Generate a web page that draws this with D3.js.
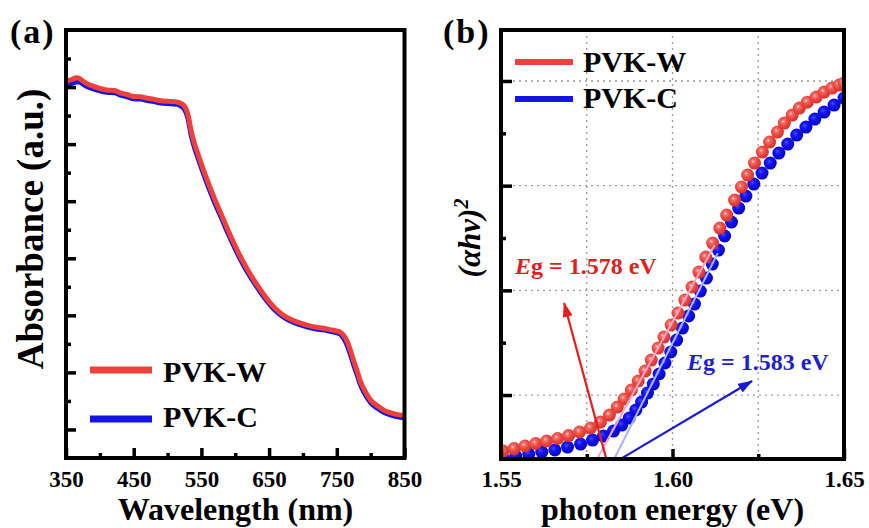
<!DOCTYPE html>
<html><head><meta charset="utf-8">
<script src="https://cdn.jsdelivr.net/npm/d3@7"></script>
<style>
body{margin:0;background:#fff;}
svg{display:block;}
text{font-family:'Liberation Serif','Times New Roman',serif;font-weight:bold;}
</style></head>
<body><div id="chart"></div>
<script>
// ---------- Panel (a) data ----------
const wavelengths = [350,355,360,365,370,375,380,390,400,410,422,430,440,450,460,470,480,490,500,510,515,520,525,530,535,540,545,550,560,570,580,590,600,610,620,630,640,650,660,670,680,690,700,710,720,730,740,750,755,760,765,770,775,780,785,790,800,810,820,830,840,850];
const absW = [1.418,1.424,1.428,1.433,1.430,1.421,1.413,1.403,1.395,1.390,1.388,1.380,1.374,1.367,1.366,1.361,1.357,1.352,1.350,1.349,1.347,1.342,1.333,1.305,1.245,1.200,1.165,1.130,1.065,1.005,0.950,0.895,0.843,0.795,0.753,0.715,0.680,0.648,0.622,0.602,0.588,0.578,0.570,0.563,0.558,0.555,0.550,0.545,0.541,0.530,0.510,0.478,0.440,0.405,0.368,0.342,0.303,0.283,0.267,0.258,0.252,0.249];
const absC = [1.402,1.410,1.414,1.418,1.418,1.410,1.403,1.394,1.387,1.382,1.380,1.372,1.366,1.359,1.358,1.353,1.349,1.344,1.342,1.341,1.339,1.333,1.322,1.292,1.230,1.186,1.152,1.117,1.052,0.993,0.939,0.884,0.833,0.786,0.744,0.707,0.672,0.641,0.615,0.596,0.582,0.572,0.564,0.557,0.552,0.549,0.544,0.539,0.534,0.520,0.497,0.464,0.426,0.392,0.356,0.331,0.294,0.274,0.259,0.250,0.244,0.241];
const xTicksA = [350,450,550,650,750,850];
const xMinorA = [400,500,600,700,800];
const yTicksA = [0.2,0.4,0.6,0.8,1.0,1.2,1.4];
const yMinorA = [0.3,0.5,0.7,0.9,1.1,1.3,1.5];

// ---------- Panel (b) data ----------
const energyW = [1.5474,1.5506,1.5538,1.5570,1.5601,1.5633,1.5665,1.5697,1.5729,1.5761,1.5790,1.5816,1.5839,1.5859,1.5880,1.5900,1.5920,1.5938,1.5958,1.5975,1.5996,1.6016,1.6036,1.6057,1.6077,1.6097,1.6117,1.6138,1.6158,1.6181,1.6201,1.6219,1.6239,1.6262,1.6283,1.6306,1.6326,1.6349,1.6370,1.6393,1.6419,1.6442,1.6465,1.6486,1.6500];
const ahvW = [0.44,0.465,0.489,0.513,0.537,0.561,0.585,0.613,0.647,0.685,0.742,0.809,0.885,0.962,1.048,1.134,1.229,1.334,1.449,1.554,1.669,1.783,1.907,2.032,2.175,2.318,2.452,2.595,2.719,2.862,2.987,3.101,3.216,3.321,3.416,3.512,3.598,3.674,3.741,3.798,3.846,3.894,3.932,3.961,3.980];
const energyC = [1.5471,1.5506,1.5543,1.5581,1.5619,1.5657,1.5694,1.5732,1.5767,1.5799,1.5828,1.5852,1.5874,1.5893,1.5910,1.5927,1.5944,1.5961,1.5978,1.5995,1.6012,1.6029,1.6047,1.6064,1.6081,1.6099,1.6116,1.6134,1.6152,1.6172,1.6193,1.6214,1.6237,1.6261,1.6285,1.6310,1.6336,1.6362,1.6389,1.6415,1.6442,1.6471,1.6500];
const ahvC = [0.38,0.398,0.417,0.436,0.456,0.475,0.503,0.532,0.570,0.608,0.656,0.713,0.780,0.857,0.933,1.019,1.105,1.201,1.306,1.411,1.525,1.640,1.755,1.869,1.993,2.117,2.251,2.385,2.519,2.652,2.786,2.901,3.015,3.120,3.216,3.311,3.397,3.483,3.560,3.636,3.703,3.770,3.837];
const fitW = [[1.578,0.389],[1.6123,2.433]];
const fitC = [[1.583,0.389],[1.6132,2.356]];
const arrowW = [[1.5807,0.39],[1.5684,1.879]];
const arrowC = [[1.5849,0.39],[1.6232,1.134]];
const xTicksB = [1.55,1.60,1.65];
const xMinorB = [1.575,1.625];
const yTicksB = [1,2,3,4];
const yMinorB = [1.5,2.5,3.5];
const gridXB = [1.575,1.60,1.625];
const seriesNames = ["PVK-W","PVK-C"];
const colW = "#f0403c", colC = "#1414e6";

const svg = d3.select("#chart").append("svg").attr("width",869).attr("height",528);
const defs = svg.append("defs");

// gradients for sphere markers
const gR = defs.append("radialGradient").attr("id","gRed").attr("cx","40%").attr("cy","38%").attr("r","60%");
gR.append("stop").attr("offset","0%").attr("stop-color","#ffd6cf");
gR.append("stop").attr("offset","22%").attr("stop-color","#f2706a");
gR.append("stop").attr("offset","60%").attr("stop-color","#ea4640");
gR.append("stop").attr("offset","100%").attr("stop-color","#d8332e");
const gB = defs.append("radialGradient").attr("id","gBlue").attr("cx","40%").attr("cy","38%").attr("r","60%");
gB.append("stop").attr("offset","0%").attr("stop-color","#4848ff");
gB.append("stop").attr("offset","40%").attr("stop-color","#1212f2");
gB.append("stop").attr("offset","100%").attr("stop-color","#0606c8");

function arrowMarker(id,color){
  defs.append("marker").attr("id",id).attr("markerUnits","userSpaceOnUse")
    .attr("markerWidth",16).attr("markerHeight",12).attr("refX",14).attr("refY",5)
    .attr("orient","auto").append("path").attr("d","M0,0 L15,5 L0,10 Z").attr("fill",color);
}
arrowMarker("arrR","#e81e1e");
arrowMarker("arrB","#1a1ad2");

function styleAxis(g){
  g.select(".domain").remove();
  g.selectAll(".tick line").attr("stroke","#000").attr("stroke-width",3.5);
  g.selectAll(".tick text").attr("fill","#000").style("font-size","23px")
    .style("font-family","'Liberation Serif','Times New Roman',serif").style("font-weight","bold");
}

// ================= Panel (a) =================
const xA = d3.scaleLinear().domain([350,850]).range([66,404.5]);
const yA = d3.scaleLinear().domain([0.1,1.6]).range([458,30]);

const gA = svg.append("g");
const lineA = d3.line().x(d=>xA(d[0])).y(d=>yA(d[1])).curve(d3.curveMonotoneX);
gA.append("path").datum(wavelengths.map((w,i)=>[w,absC[i]])).attr("d",lineA)
  .attr("fill","none").attr("stroke",colC).attr("stroke-width",5);
gA.append("path").datum(wavelengths.map((w,i)=>[w,absW[i]])).attr("d",lineA)
  .attr("fill","none").attr("stroke",colW).attr("stroke-width",5);

gA.append("g").attr("transform","translate(0,458)")
  .call(d3.axisBottom(xA).tickValues(xTicksA).tickSize(-10).tickPadding(13).tickFormat(d3.format("d"))).call(styleAxis);
gA.append("g").attr("transform","translate(0,458)")
  .call(d3.axisBottom(xA).tickValues(xMinorA).tickSize(-5).tickFormat("")).call(styleAxis);
gA.append("g").attr("transform","translate(66,0)")
  .call(d3.axisLeft(yA).tickValues(yTicksA).tickSize(-10).tickFormat("")).call(styleAxis);
gA.append("g").attr("transform","translate(66,0)")
  .call(d3.axisLeft(yA).tickValues(yMinorA).tickSize(-5).tickFormat("")).call(styleAxis);

gA.append("rect").attr("x",66).attr("y",30).attr("width",404.5-66).attr("height",458-30)
  .attr("fill","none").attr("stroke","#000").attr("stroke-width",4);

// legend (a)
[[370,382,colW],[419,427,colC]].forEach((p,i)=>{
  gA.append("line").attr("x1",90).attr("x2",152).attr("y1",p[0]).attr("y2",p[0])
    .attr("stroke",p[2]).attr("stroke-width",7);
  gA.append("text").attr("x",163).attr("y",p[1]).style("font-size","30px").text(seriesNames[i]);
});

gA.append("text").attr("x",235.5).attr("y",520).attr("text-anchor","middle")
  .style("font-size","32px").text("Wavelength (nm)");
gA.append("text").attr("transform","translate(43,229) rotate(-90)").attr("text-anchor","middle")
  .style("font-size","37px").text("Absorbance (a.u.)");
gA.append("text").attr("x",10).attr("y",43).style("font-size","34px").style("letter-spacing","2px").text("(a)");

// ================= Panel (b) =================
const xB = d3.scaleLinear().domain([1.55,1.65]).range([501,844]);
const yB = d3.scaleLinear().domain([0.389,4.487]).range([459,30]);
const gBp = svg.append("g");

defs.append("clipPath").attr("id","clipB").append("rect")
  .attr("x",501).attr("y",30).attr("width",844-501).attr("height",459-30);

// grid
gBp.selectAll(".gx").data(gridXB).enter().append("line")
  .attr("x1",d=>xB(d)).attr("x2",d=>xB(d)).attr("y1",30).attr("y2",459)
  .attr("stroke","#999").attr("stroke-width",1.3).attr("stroke-dasharray","2,4");
gBp.selectAll(".gy").data(yTicksB).enter().append("line")
  .attr("x1",501).attr("x2",844).attr("y1",d=>yB(d)).attr("y2",d=>yB(d))
  .attr("stroke","#999").attr("stroke-width",1.3).attr("stroke-dasharray","2,4");

const plotB = gBp.append("g").attr("clip-path","url(#clipB)");
plotB.selectAll(".mc").data(energyC.map((e,i)=>[e,ahvC[i]])).enter().append("circle")
  .attr("cx",d=>xB(d[0])).attr("cy",d=>yB(d[1])).attr("r",6.5).attr("fill","url(#gBlue)");
plotB.selectAll(".mw").data(energyW.map((e,i)=>[e,ahvW[i]])).enter().append("circle")
  .attr("cx",d=>xB(d[0])).attr("cy",d=>yB(d[1])).attr("r",6.5).attr("fill","url(#gRed)");

const lineB = d3.line().x(d=>xB(d[0])).y(d=>yB(d[1]));
plotB.append("path").datum(fitW).attr("d",lineB).attr("stroke","#f4a6c8").attr("stroke-width",2).attr("fill","none");
plotB.append("path").datum(fitC).attr("d",lineB).attr("stroke","#a8b4f4").attr("stroke-width",2).attr("fill","none");
gBp.append("path").datum(arrowW).attr("d",lineB).attr("stroke","#e81e1e").attr("stroke-width",2.2)
  .attr("fill","none").attr("marker-end","url(#arrR)");
gBp.append("path").datum(arrowC).attr("d",lineB).attr("stroke","#1a1ad2").attr("stroke-width",2.2)
  .attr("fill","none").attr("marker-end","url(#arrB)");

gBp.append("g").attr("transform","translate(0,459)")
  .call(d3.axisBottom(xB).tickValues(xTicksB).tickSize(-10).tickPadding(12).tickFormat(d3.format(".2f"))).call(styleAxis);
gBp.append("g").attr("transform","translate(0,459)")
  .call(d3.axisBottom(xB).tickValues(xMinorB).tickSize(-5).tickFormat("")).call(styleAxis);
gBp.append("g").attr("transform","translate(501,0)")
  .call(d3.axisLeft(yB).tickValues(yTicksB).tickSize(-11).tickFormat("")).call(styleAxis);
gBp.append("g").attr("transform","translate(501,0)")
  .call(d3.axisLeft(yB).tickValues(yMinorB).tickSize(-5).tickFormat("")).call(styleAxis);

gBp.append("rect").attr("x",501).attr("y",30).attr("width",844-501).attr("height",459-30)
  .attr("fill","none").attr("stroke","#000").attr("stroke-width",4);

// legend (b)
[[62,72,colW],[99,108,colC]].forEach((p,i)=>{
  gBp.append("line").attr("x1",515).attr("x2",573).attr("y1",p[0]).attr("y2",p[0])
    .attr("stroke",p[2]).attr("stroke-width",6);
  gBp.append("text").attr("x",583).attr("y",p[1]).style("font-size","30px").text(seriesNames[i]);
});

// Eg annotations
function egText(x,y,color,val){
  const t = gBp.append("text").attr("x",x).attr("y",y).attr("fill",color).style("font-size","24px");
  t.append("tspan").style("font-style","italic").text("E");
  t.append("tspan").text("g = " + val + " eV");
}
egText(515,274,"#e01e1e","1.578");
egText(687,370,"#1e1ed0","1.583");

gBp.append("text").attr("x",672.5).attr("y",520).attr("text-anchor","middle")
  .style("font-size","32px").text("photon energy (eV)");
const yt = gBp.append("text").attr("transform","translate(480,238) rotate(-90)").attr("text-anchor","middle")
  .style("font-size","31px").style("font-style","italic");
yt.append("tspan").text("(αhν)");
yt.append("tspan").attr("dy","-12").style("font-size","20px").text("2");
gBp.append("text").attr("x",443).attr("y",43).style("font-size","34px").style("letter-spacing","2px").text("(b)");
</script></body></html>
